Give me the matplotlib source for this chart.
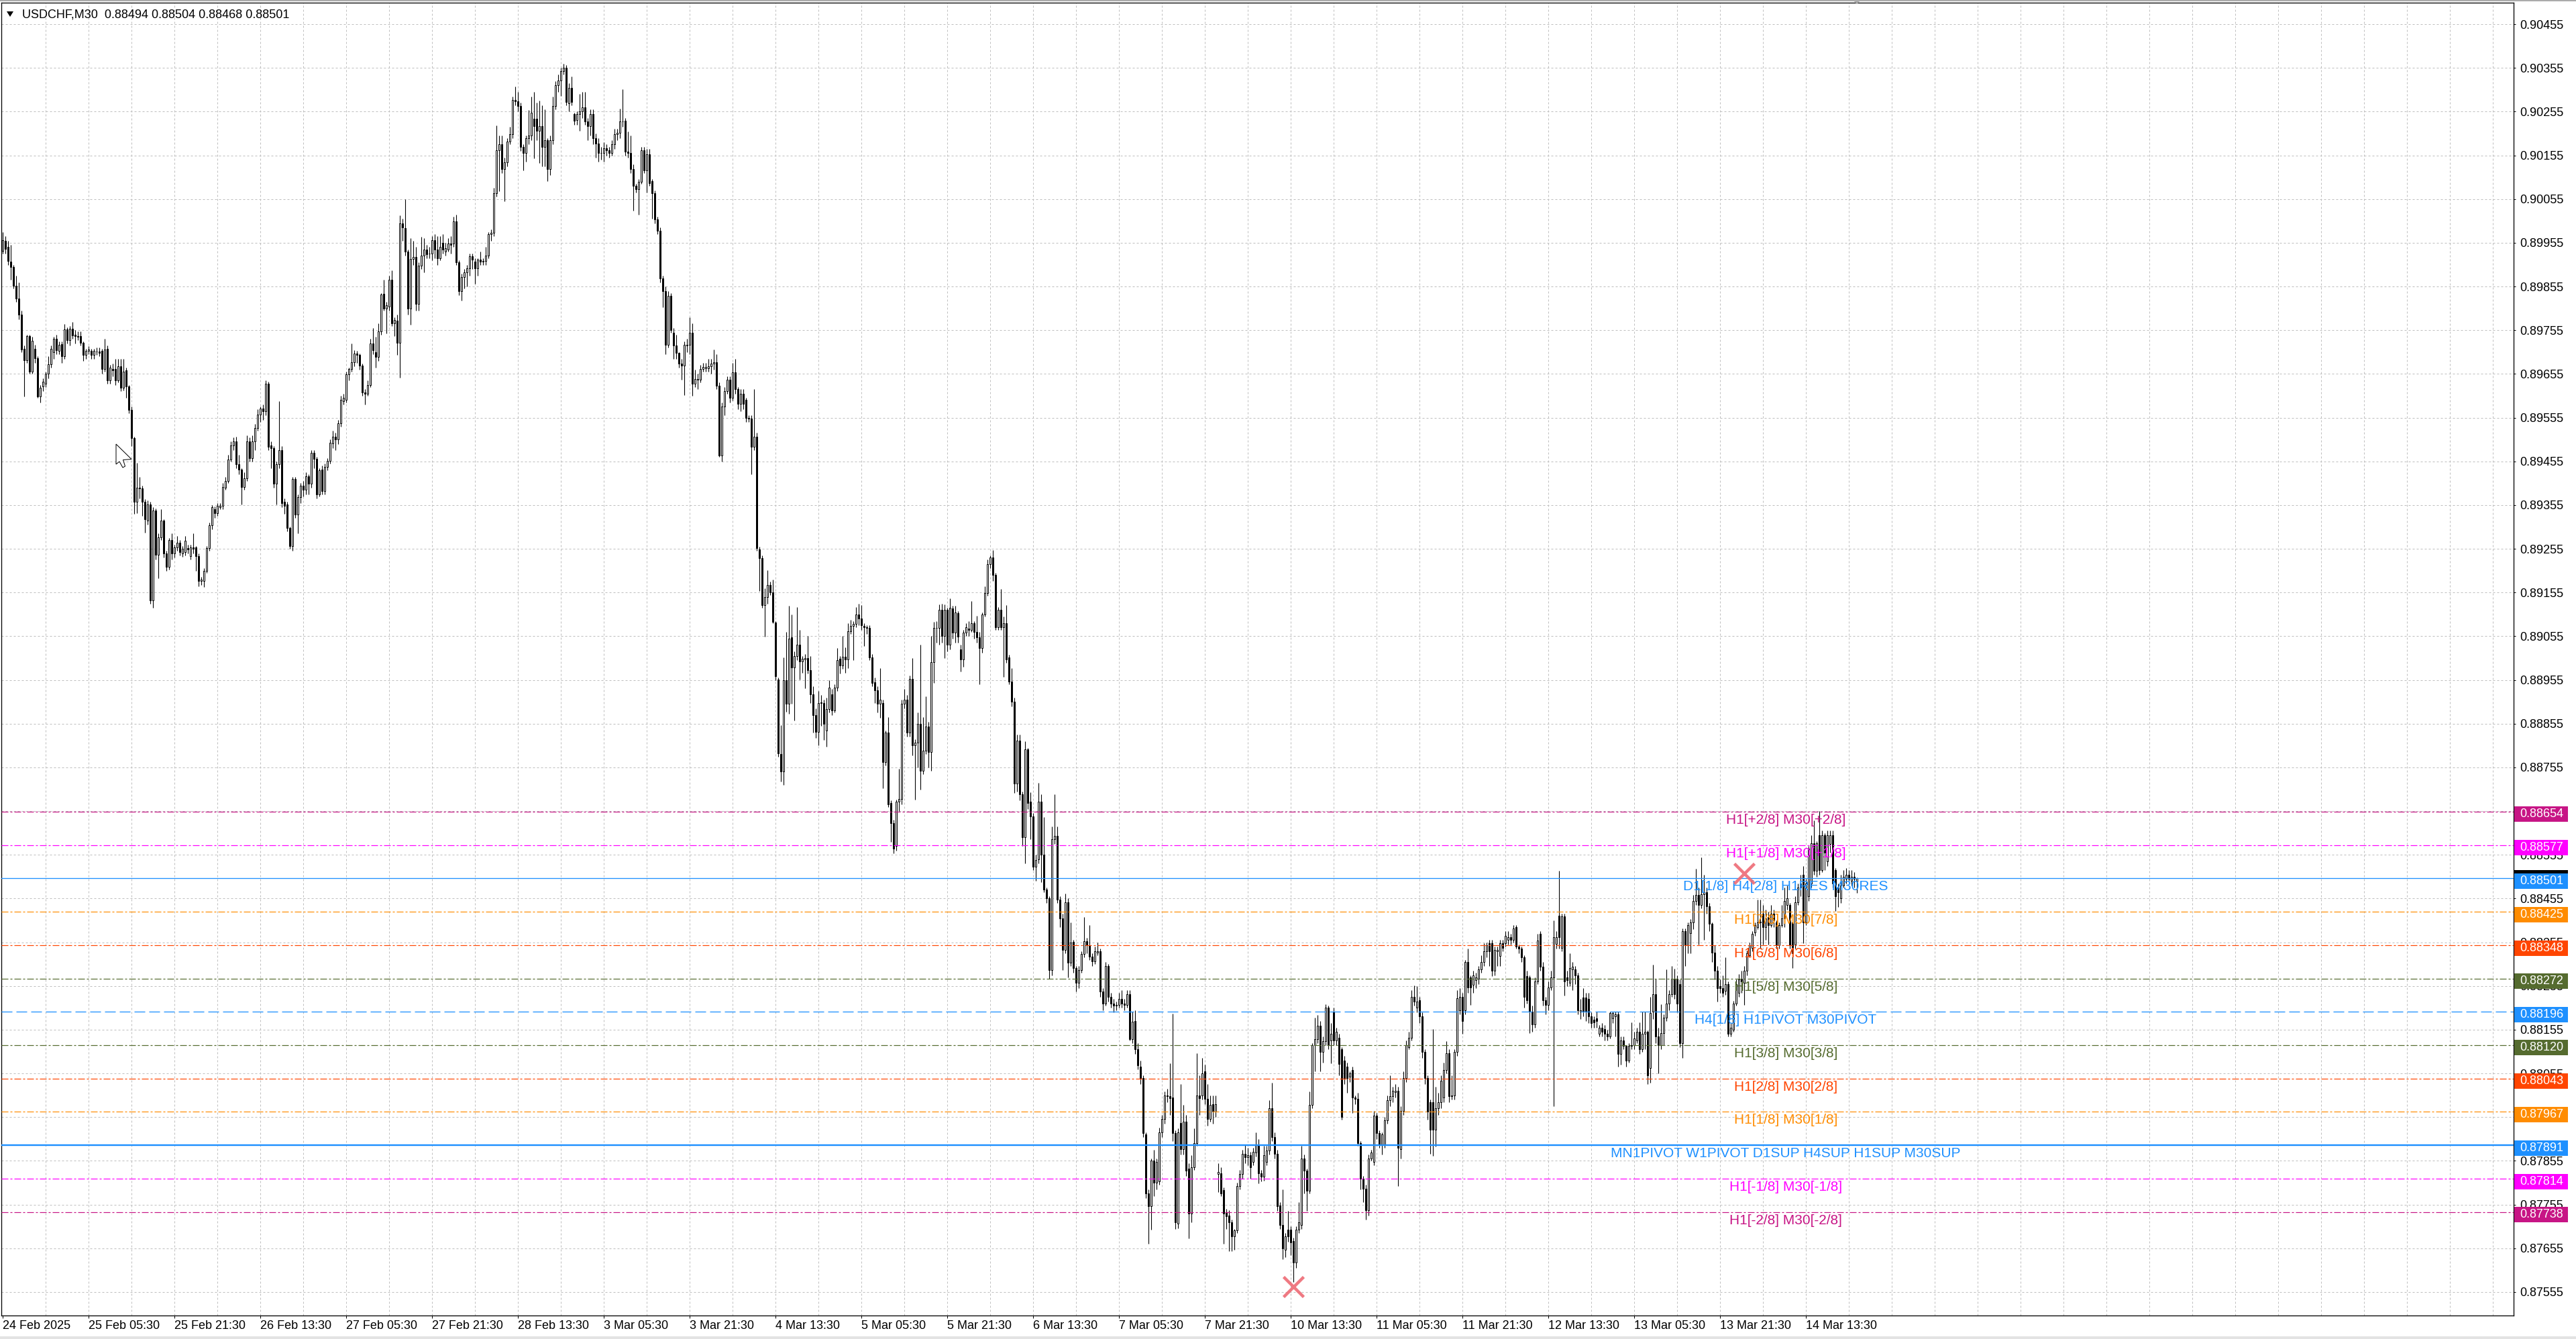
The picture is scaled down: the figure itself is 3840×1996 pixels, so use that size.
import matplotlib
matplotlib.use("Agg")
import matplotlib.pyplot as plt
import matplotlib.transforms as mtransforms
from matplotlib.patches import Rectangle, Polygon
import numpy as np

plt.rcParams['font.family'] = ['Liberation Sans', 'DejaVu Sans']
plt.rcParams['lines.scale_dashes'] = False

# ---------------- data (prices in 1e-5 units) ----------------
symbol = "USDCHF,M30"

open_pts = [
89937,89959,89946,89912,89900,89856,89828,89790,89713,89687,
89741,89660,89713,89691,89603,89627,89633,89655,89677,89704,
89736,89708,89723,89696,89757,89733,89758,89745,89741,89741,
89727,89698,89708,89708,89698,89707,89707,89708,89667,89713,
89640,89667,89667,89640,89673,89623,89663,89627,89573,89508,
89363,89395,89393,89363,89319,89356,89137,89343,89241,89282,
89319,89245,89214,89275,89245,89258,89269,89245,89248,89256,
89238,89258,89258,89238,89181,89181,89204,89256,89309,89346,
89336,89350,89353,89395,89410,89459,89491,89500,89448,89437,
89397,89417,89500,89462,89500,89532,89562,89576,89569,89633,
89491,89485,89404,89448,89481,89363,89356,89302,89262,89414,
89333,89373,89400,89390,89421,89404,89475,89461,89380,89437,
89387,89442,89456,89496,89512,89505,89542,89593,89596,89654,
89667,89681,89702,89698,89674,89613,89610,89630,89725,89704,
89694,89752,89839,89804,89809,89871,89770,89777,89727,89999,
89988,89935,89804,89918,89922,89815,89903,89926,89940,89930,
89931,89961,89940,89919,89955,89935,89940,89953,89954,90004,
89911,89844,89876,89887,89897,89924,89912,89897,89916,89912,
89913,89926,89975,89978,90068,90166,90180,90124,90139,90187,
90203,90281,90278,90268,90174,90160,90195,90200,90238,90238,
90211,90222,90174,90190,90124,90190,90268,90316,90326,90347,
90355,90274,90309,90250,90236,90250,90256,90265,90233,90222,
90249,90195,90182,90160,90160,90171,90167,90160,90180,90203,
90206,90233,90234,90163,90160,90124,90086,90078,90094,90167,
90121,90158,90096,90068,90009,89983,89873,89844,89722,89834,
89749,89720,89703,89679,89674,89720,89722,89749,89632,89643,
89642,89666,89668,89668,89673,89679,89681,89628,89469,89581,
89615,89642,89600,89658,89621,89586,89610,89596,89554,89553,
89488,89511,89254,89234,89127,89145,89172,89155,89087,88956,
88785,88745,88955,88900,89052,88983,89010,89035,88998,89002,
89005,88978,88922,88875,88836,88902,88903,88840,88888,88922,
88885,88938,89003,88988,89008,89002,89067,89078,89083,89105,
89095,89078,89075,89074,89007,88950,88932,88900,88903,88767,
88835,88674,88628,88575,88676,88683,88900,88910,88834,88958,
88805,88812,88855,88748,88794,88848,88790,88996,89074,89074,
89116,89055,89116,89035,89118,89063,89108,89025,89002,89063,
89072,89070,89085,89065,89052,89028,89105,89154,89220,89235,
89195,89076,89116,89076,89085,89007,88952,88905,88718,88816,
88694,88596,88796,88676,88643,88528,88545,88676,88556,88476,
88455,88292,88590,88598,88453,88410,88338,88447,88308,88356,
88296,88262,88292,88328,88358,88348,88322,88312,88332,88335,
88242,88215,88300,88230,88215,88210,88212,88225,88215,88211,
88236,88134,88175,88110,88071,88045,87915,87781,87751,87855,
87805,87808,87920,87951,88005,88003,88000,87918,87712,87942,
87882,87945,87838,87734,87841,87896,88005,88005,88060,87997,
87951,87985,87967,87825,87827,87789,87737,87730,87715,87682,
87696,87798,87825,87871,87863,87868,87852,87874,87893,87827,
87819,87852,87879,87975,87910,87871,87753,87709,87652,87698,
87698,87671,87622,87698,87709,87860,87833,87786,87983,88120,
88134,88164,88104,88129,88205,88131,88197,88131,88137,88110,
88085,88071,88047,88063,88000,87997,87896,87814,87792,87742,
87860,87852,87959,87918,87893,87893,87948,87994,88003,88012,
88016,87882,87970,88044,88115,88137,88230,88205,88222,88186,
88104,88044,87989,87989,87926,87975,87989,88000,88063,88101,
88003,88005,88104,88200,88230,88200,88310,88274,88258,88268,
88271,88293,88310,88334,88353,88353,88290,88334,88323,88353,
88353,88361,88367,88361,88389,88345,88340,88320,88277,88274,
88197,88167,88266,88375,88299,88222,88211,88252,88274,88351,
88416,88342,88414,88274,88263,88293,88293,88279,88197,88228,
88228,88225,88186,88178,88181,88145,88159,88156,88145,88140,
88181,88185,88190,88100,88131,88118,88085,88118,88120,88131,
88151,88110,88145,88150,88068,88196,88236,88140,88120,88147,
88183,88215,88236,88271,88271,88260,88125,88381,88348,88376,
88400,88449,88463,88440,88465,88470,88438,88397,88331,88290,
88255,88250,88244,88260,88146,88155,88215,88240,88271,88262,
88290,88326,88342,88378,88390,88400,88420,88390,88413,88395,
88420,88400,88348,88395,88410,88440,88440,88400,88350,88447,
88480,88510,88400,88460,88490,88581,88518,88600,88520,88600,
88540,88580,88600,88520,88480,88455,88485,88500,88510,88495,
88505,88494]

high_pts = [
89980,89970,89960,89950,89905,89880,89865,89800,89720,89745,
89745,89740,89722,89695,89630,89645,89660,89695,89720,89740,
89745,89730,89730,89769,89762,89765,89774,89755,89752,89752,
89730,89712,89718,89712,89712,89715,89716,89712,89735,89720,
89675,89678,89690,89690,89690,89690,89670,89630,89580,89512,
89451,89420,89400,89368,89365,89362,89350,89348,89290,89345,
89323,89250,89280,89290,89265,89285,89275,89262,89285,89265,
89265,89290,89262,89245,89190,89210,89262,89315,89355,89352,
89360,89360,89405,89420,89470,89500,89510,89512,89470,89440,
89430,89515,89510,89515,89540,89575,89580,89585,89640,89638,
89500,89490,89455,89593,89490,89370,89362,89306,89420,89420,
89380,89405,89410,89430,89425,89480,89480,89465,89440,89445,
89450,89462,89505,89525,89520,89550,89605,89610,89660,89670,
89725,89710,89708,89702,89678,89620,89640,89735,89760,89740,
89770,89840,89871,89820,89880,89892,89785,89790,90018,90010,
90055,89940,89965,89960,89945,89910,89969,89965,89950,89945,
89970,89975,89970,89970,89975,89955,89965,89970,90015,90020,
89915,89885,89895,89905,89930,89930,89920,89920,89935,89920,
89945,89980,89985,90080,90224,90200,90200,90150,90195,90220,
90290,90312,90300,90275,90180,90200,90259,90290,90300,90275,
90280,90270,90260,90195,90200,90290,90325,90340,90355,90365,
90362,90320,90335,90252,90255,90296,90300,90300,90240,90260,
90260,90205,90195,90175,90185,90180,90175,90190,90215,90215,
90262,90307,90240,90210,90200,90135,90090,90100,90175,90175,
90170,90170,90100,90075,90015,89990,89880,89855,89845,89840,
89760,89745,89705,89690,89730,89735,89784,89770,89665,89655,
89675,89680,89680,89690,89690,89711,89700,89635,89590,89625,
89650,89650,89680,89690,89625,89620,89620,89600,89560,89560,
89620,89520,89260,89240,89165,89206,89180,89185,89090,88960,
88852,89006,89065,89125,89105,89020,89122,89070,89010,89015,
89055,89010,88940,88890,88930,88920,88910,88915,88955,88935,
88945,89028,89010,89055,89030,89085,89092,89090,89122,89130,
89127,89085,89080,89080,89015,88960,88940,88982,88910,88840,
88870,88680,88635,88682,88752,88910,88935,88920,88965,89005,
88820,88880,89035,88870,88918,88860,89055,89088,89090,89128,
89130,89128,89120,89142,89125,89125,89112,89035,89070,89085,
89090,89136,89090,89102,89065,89110,89170,89230,89240,89252,
89200,89122,89163,89100,89127,89012,88982,88915,88830,88830,
88700,88815,88800,88698,88650,88555,88720,88694,88642,88480,
88460,88620,88694,88620,88460,88420,88467,88455,88400,88360,
88300,88300,88335,88412,88365,88395,88330,88345,88355,88340,
88250,88310,88305,88240,88225,88220,88240,88245,88225,88245,
88245,88197,88200,88125,88085,88050,87920,87790,87860,87880,
87860,87931,87960,88014,88020,88078,88192,87925,87930,88030,
87983,87960,87850,87868,87930,88101,88050,88090,88075,88030,
88005,88005,88005,87849,87840,87795,87745,87742,87720,87700,
87805,87835,87880,87893,87885,87875,87885,87920,87905,87835,
87890,87890,87994,88033,87920,87880,87760,87790,87690,87740,
87705,87680,87705,87760,87890,87870,87838,88014,88125,88182,
88189,88175,88140,88214,88210,88170,88205,88160,88145,88115,
88095,88080,88060,88070,88005,88010,87900,87820,87800,87870,
87880,87970,87965,87925,87920,87955,88005,88050,88025,88030,
88025,87980,88060,88130,88150,88245,88257,88255,88230,88195,
88110,88050,87995,88156,88025,88010,88050,88080,88129,88110,
88050,88110,88246,88250,88240,88315,88341,88280,88290,88285,
88300,88325,88353,88355,88360,88360,88345,88345,88360,88360,
88380,88380,88375,88395,88395,88350,88345,88325,88290,88280,
88210,88275,88375,88380,88310,88230,88265,88290,88405,88380,
88518,88420,88420,88290,88330,88310,88300,88285,88225,88250,
88240,88240,88195,88185,88197,88165,88170,88165,88155,88197,
88197,88197,88197,88140,88140,88120,88125,88172,88150,88160,
88172,88197,88197,88153,88230,88304,88271,88160,88214,88190,
88293,88245,88300,88295,88280,88270,88386,88386,88400,88408,
88463,88523,88480,88550,88510,88480,88445,88400,88348,88300,
88270,88280,88320,88265,88170,88221,88270,88282,88290,88300,
88336,88354,88381,88401,88452,88452,88440,88430,88425,88440,
88430,88405,88400,88441,88480,88485,88445,88408,88460,88490,
88510,88530,88500,88575,88600,88633,88586,88655,88610,88605,
88610,88610,88610,88525,88490,88510,88520,88525,88520,88520,
88515,88504]

low_pts = [
89930,89930,89905,89870,89850,89820,89780,89705,89603,89680,
89655,89655,89680,89600,89590,89615,89625,89645,89670,89690,
89700,89700,89680,89690,89725,89720,89735,89725,89732,89720,
89685,89690,89700,89690,89690,89698,89695,89655,89660,89632,
89632,89650,89630,89635,89615,89618,89600,89565,89490,89335,
89336,89370,89330,89292,89310,89130,89120,89230,89188,89275,
89235,89205,89208,89230,89235,89250,89240,89237,89240,89245,
89230,89245,89205,89170,89172,89168,89200,89250,89300,89325,
89330,89345,89345,89390,89405,89455,89480,89440,89425,89356,
89390,89410,89455,89455,89480,89525,89545,89550,89560,89480,
89440,89395,89356,89440,89350,89335,89295,89255,89250,89325,
89290,89360,89375,89380,89380,89395,89440,89370,89375,89380,
89380,89435,89450,89485,89480,89495,89535,89585,89590,89640,
89660,89672,89680,89665,89605,89585,89605,89625,89700,89670,
89685,89745,89800,89748,89800,89765,89741,89698,89647,89960,
89925,89791,89768,89905,89800,89800,89895,89887,89920,89920,
89915,89920,89905,89915,89930,89925,89935,89930,89945,89905,
89835,89823,89850,89855,89880,89895,89862,89880,89905,89905,
89905,89920,89960,89970,90060,90073,90115,90050,90130,90180,
90195,90270,90255,90165,90121,90140,90180,90190,90148,90190,
90137,90130,90130,90096,90110,90180,90260,90300,90291,90340,
90270,90255,90270,90225,90225,90211,90240,90225,90190,90200,
90180,90150,90140,90145,90140,90155,90150,90155,90170,90190,
90195,90220,90155,90150,90115,90028,90070,90020,90090,90115,
90070,90085,90010,90000,89975,89865,89807,89700,89715,89750,
89690,89690,89670,89642,89607,89705,89700,89605,89625,89620,
89635,89660,89660,89660,89655,89665,89620,89465,89455,89560,
89610,89590,89595,89610,89575,89570,89575,89545,89545,89426,
89480,89250,89158,89120,89054,89130,89150,89085,88955,88780,
88722,88715,88882,88878,88900,88862,89000,88956,88972,88936,
88970,88903,88835,88822,88805,88850,88818,88803,88880,88875,
88880,88930,88970,88980,88972,88982,89060,89000,89075,89080,
89070,89032,89060,89000,88940,88903,88880,88868,88708,88760,
88665,88585,88558,88565,88655,88670,88890,88825,88825,88782,
88682,88755,88705,88740,88785,88755,88748,88948,89040,89035,
89040,89005,89020,89025,89050,89040,89040,88975,88985,89055,
89055,89065,89050,89040,88945,89018,89100,89148,89210,89182,
89070,89070,89070,88962,88995,88945,88895,88696,88700,88680,
88576,88535,88660,88590,88520,88495,88535,88492,88470,88445,
88272,88280,88580,88445,88390,88292,88330,88275,88300,88285,
88243,88250,88285,88320,88330,88315,88300,88305,88325,88230,
88200,88210,88220,88205,88195,88200,88205,88205,88200,88205,
88130,88125,88100,88065,88030,87910,87770,87666,87698,87775,
87790,87800,87910,87940,87990,87960,87900,87700,87701,87870,
87870,87820,87677,87715,87835,87890,87960,87995,87985,87935,
87945,87940,87955,87783,87775,87666,87700,87649,87649,87652,
87690,87790,87815,87850,87845,87815,87845,87865,87803,87808,
87810,87845,87870,87900,87860,87740,87700,87630,87635,87670,
87640,87578,87610,87690,87700,87780,87740,87780,87975,88060,
88125,88060,88080,88120,88110,88078,88120,88120,88050,87950,
88030,88010,88035,87965,87985,87890,87790,87760,87720,87730,
87855,87845,87905,87885,87870,87885,87940,87980,87990,88000,
87797,87860,87960,88035,88110,88130,88210,88195,88170,88090,
88030,87950,87871,87866,87888,87960,87975,87990,88055,87990,
87995,87995,88095,88190,88145,88190,88240,88211,88240,88250,
88260,88285,88300,88320,88300,88277,88280,88300,88300,88335,
88345,88350,88350,88355,88340,88330,88310,88205,88215,88148,
88150,88160,88260,88290,88210,88190,88200,88245,87980,88340,
88340,88335,88233,88255,88255,88246,88260,88190,88180,88185,
88175,88170,88160,88160,88160,88140,88140,88130,88130,88135,
88170,88140,88070,88075,88110,88070,88080,88110,88110,88125,
88100,88105,88110,88030,88033,88180,88125,88055,88110,88120,
88175,88200,88230,88225,88195,88115,88090,88300,88330,88330,
88385,88440,88350,88433,88360,88420,88380,88310,88270,88220,
88240,88230,88235,88140,88140,88150,88210,88230,88240,88211,
88280,88320,88335,88370,88385,88340,88350,88360,88350,88390,
88390,88340,88340,88390,88390,88430,88340,88296,88340,88440,
88460,88353,88395,88450,88480,88510,88505,88510,88515,88520,
88530,88560,88480,88427,88436,88445,88480,88490,88495,88485,
88480,88468]

close_pts = [
89961,89941,89914,89900,89856,89828,89790,89711,89687,89741,
89660,89731,89691,89603,89623,89637,89655,89677,89713,89735,
89709,89721,89696,89757,89733,89758,89743,89741,89740,89727,
89698,89708,89711,89698,89708,89706,89703,89667,89711,89640,
89669,89664,89640,89673,89623,89660,89627,89573,89508,89363,
89395,89393,89363,89323,89356,89137,89343,89241,89282,89319,
89245,89214,89275,89245,89258,89269,89248,89255,89274,89254,
89258,89255,89238,89181,89184,89204,89256,89309,89350,89336,
89353,89353,89397,89410,89459,89491,89500,89448,89437,89397,
89417,89500,89462,89500,89532,89562,89576,89569,89633,89488,
89485,89404,89448,89481,89360,89353,89302,89262,89414,89333,
89373,89400,89390,89421,89404,89475,89461,89380,89434,89387,
89442,89456,89498,89512,89505,89542,89596,89600,89654,89667,
89681,89702,89698,89674,89613,89610,89630,89725,89709,89694,
89752,89836,89804,89812,89871,89770,89779,89727,89999,89990,
89935,89804,89918,89922,89815,89903,89926,89940,89929,89931,
89961,89940,89919,89945,89940,89942,89953,89951,90004,89911,
89844,89876,89887,89897,89924,89916,89897,89916,89912,89913,
89926,89975,89978,90068,90166,90180,90124,90139,90187,90203,
90281,90279,90268,90174,90160,90195,90200,90252,90222,90211,
90222,90174,90190,90124,90190,90268,90316,90326,90347,90355,
90277,90309,90277,90234,90250,90256,90265,90233,90222,90249,
90195,90182,90160,90161,90171,90167,90160,90180,90203,90206,
90233,90232,90163,90160,90124,90086,90078,90094,90167,90121,
90158,90092,90068,90009,89983,89873,89844,89722,89834,89756,
89720,89703,89679,89674,89722,89722,89749,89632,89644,89642,
89666,89671,89671,89673,89679,89681,89628,89469,89581,89615,
89642,89600,89658,89621,89586,89610,89586,89554,89553,89488,
89511,89256,89234,89127,89145,89172,89155,89088,88963,88787,
88745,88955,88900,89050,88983,89010,89035,88998,89003,89005,
88978,88922,88875,88836,88903,88904,88855,88888,88938,88885,
88938,89000,88988,89008,89002,89067,89078,89083,89105,89095,
89080,89075,89074,89007,88948,88932,88900,88910,88767,88835,
88670,88628,88570,88676,88683,88900,88910,88834,88958,88805,
88812,88855,88748,88794,88848,88790,88996,89074,89074,89116,
89055,89116,89035,89120,89063,89110,89054,89002,89063,89075,
89070,89085,89065,89052,89028,89105,89154,89220,89235,89195,
89076,89116,89076,89085,89002,88952,88905,88718,88816,88694,
88596,88796,88674,88643,88528,88543,88676,88556,88476,88455,
88292,88590,88598,88453,88410,88338,88447,88308,88355,88296,
88262,88292,88328,88358,88348,88322,88312,88335,88335,88242,
88215,88300,88230,88215,88210,88212,88225,88215,88211,88236,
88134,88173,88110,88074,88045,87918,87781,87751,87855,87805,
87852,87920,87951,88005,88003,87998,87918,87715,87920,87882,
87945,87833,87734,87841,87896,88005,87998,88055,87997,87951,
87983,87967,87985,87830,87781,87734,87729,87715,87682,87696,
87798,87825,87871,87863,87868,87841,87876,87893,87827,87819,
87868,87879,87975,87910,87871,87751,87709,87655,87682,87682,
87668,87622,87698,87715,87860,87833,87786,87983,88120,88134,
88164,88104,88129,88205,88120,88145,88131,88150,88077,87956,
88044,88044,88055,88000,87997,87896,87814,87792,87742,87860,
87874,87959,87918,87893,87915,87948,87994,88003,88016,88016,
87885,87970,88044,88120,88137,88230,88219,88219,88186,88104,
88044,87967,87926,87926,87975,87989,88039,88063,88101,88003,
88005,88104,88227,88230,88175,88310,88252,88252,88279,88274,
88293,88310,88334,88348,88334,88290,88337,88337,88353,88342,
88370,88367,88361,88386,88345,88340,88320,88230,88222,88197,
88167,88266,88359,88299,88222,88211,88252,88274,88367,88367,
88367,88414,88266,88268,88296,88299,88279,88200,88200,88197,
88197,88186,88170,88172,88175,88159,88150,88145,88140,88194,
88194,88190,88100,88131,88118,88085,88118,88120,88135,88151,
88110,88145,88150,88050,88194,88236,88140,88120,88147,88183,
88215,88236,88271,88236,88215,88125,88380,88348,88395,88400,
88449,88463,88440,88465,88470,88438,88397,88331,88290,88250,
88250,88240,88260,88146,88160,88215,88260,88270,88265,88290,
88330,88348,88375,88395,88400,88402,88390,88410,88395,88420,
88405,88348,88395,88410,88450,88455,88348,88330,88447,88480,
88490,88400,88490,88570,88581,88518,88581,88520,88600,88560,
88600,88600,88490,88460,88470,88485,88505,88510,88500,88505,
88500,88501]

time_labels = ["24 Feb 2025", "25 Feb 05:30", "25 Feb 21:30", "26 Feb 13:30",
               "27 Feb 05:30", "27 Feb 21:30", "28 Feb 13:30", "3 Mar 05:30",
               "3 Mar 21:30", "4 Mar 13:30", "5 Mar 05:30", "5 Mar 21:30",
               "6 Mar 13:30", "7 Mar 05:30", "7 Mar 21:30", "10 Mar 13:30",
               "11 Mar 05:30", "11 Mar 21:30", "12 Mar 13:30", "13 Mar 05:30",
               "13 Mar 21:30", "14 Mar 13:30"]
bars_per_label = 32

level_values = [0.88654, 0.88577, 0.88501, 0.88425, 0.88348, 0.88272, 0.88196,
                0.88120, 0.88043, 0.87967, 0.87891, 0.87814, 0.87738]
level_names = ["H1[+2/8] M30[+2/8]", "H1[+1/8] M30[+1/8]",
               "D1[1/8] H4[2/8] H1RES M30RES", "H1[7/8] M30[7/8]",
               "H1[6/8] M30[6/8]", "H1[5/8] M30[5/8]", "H4[1/8] H1PIVOT M30PIVOT",
               "H1[3/8] M30[3/8]", "H1[2/8] M30[2/8]", "H1[1/8] M30[1/8]",
               "MN1PIVOT W1PIVOT D1SUP H4SUP H1SUP M30SUP",
               "H1[-1/8] M30[-1/8]", "H1[-2/8] M30[-2/8]"]

cross_bars = [481, 649]
cross_prices = [0.87567, 0.88512]

grid_first_price = 0.87555
grid_step = 0.001
grid_count = 30

# ---------------- styling ----------------
MVR, MAG, DBL, DOR, ORR, OLV = '#C71585', '#FF00FF', '#1E90FF', '#FF8C00', '#FF4500', '#556B2F'
level_colors = [MVR, MAG, DBL, DOR, ORR, OLV, DBL, OLV, ORR, DOR, DBL, MAG, MVR]
level_kinds = ['dd', 'dd', 'solid', 'dd', 'dd', 'dd', 'long', 'dd', 'dd', 'dd', 'thick', 'dd', 'dd']

W, H, DPI = 3840, 1996, 100
PT = 72.0 / DPI  # points per pixel
L_px, R_px, T_px, B_px = 2, 3747, 4, 1961
px_per_bar = 4.0
first_bar_px = 4.0

fig = plt.figure(figsize=(W / DPI, H / DPI), dpi=DPI, facecolor='white')
ax = fig.add_axes([L_px / W, 1 - B_px / H, (R_px - L_px) / W, (B_px - T_px) / H])
ax.set_facecolor('white')

xmin = -(first_bar_px - L_px) / px_per_bar
xmax = xmin + (R_px - L_px) / px_per_bar
y_top = grid_first_price + (1926 - T_px) / 65170.0
y_bot = grid_first_price - (B_px - 1926) / 65170.0
ax.set_xlim(xmin, xmax)
ax.set_ylim(y_bot, y_top)
dpp = (y_top - y_bot) / (B_px - T_px)  # data units per pixel

# grid
grid_levels = grid_first_price + grid_step * np.arange(grid_count)
gcol = '#BEBEBE'
for gy in grid_levels:
    ax.axhline(gy, color=gcol, lw=1 * PT, dashes=(3 * PT, 3 * PT), zorder=0.5)
k = 1
while 16 * k < xmax:
    ax.axvline(16 * k, color=gcol, lw=1 * PT, dashes=(3 * PT, 3 * PT), zorder=0.5)
    k += 1

# candles
n = min(len(open_pts), len(high_pts), len(low_pts), len(close_pts))
idx = np.arange(n)
o = np.array(open_pts[:n]) / 1e5
hh = np.array(high_pts[:n]) / 1e5
ll = np.array(low_pts[:n]) / 1e5
c = np.array(close_pts[:n]) / 1e5
up = c >= o
ax.vlines(idx, ll, hh, color='black', lw=1.1 * PT, zorder=2)
bot = np.minimum(o, c)
hgt = np.abs(c - o)
ax.bar(idx[up], hgt[up], bottom=bot[up], width=0.6, facecolor='white',
       edgecolor='black', linewidth=1.0 * PT, zorder=3)
ax.bar(idx[~up], hgt[~up], bottom=bot[~up], width=0.6, facecolor='black',
       edgecolor='black', linewidth=1.0 * PT, zorder=3)

# level lines
for v, col, kind in zip(level_values, level_colors, level_kinds):
    if kind == 'dd':
        ax.axhline(v, color=col, lw=1.2 * PT, dashes=(10 * PT, 3 * PT, 3 * PT, 3 * PT), zorder=4)
    elif kind == 'long':
        ax.axhline(v, color=col, lw=1.3 * PT, dashes=(16 * PT, 6 * PT), zorder=4)
    elif kind == 'thick':
        ax.axhline(v, color=col, lw=2.4 * PT, zorder=4)
    else:
        ax.axhline(v, color=col, lw=1.3 * PT, zorder=4)

# level labels
lab_trans = mtransforms.blended_transform_factory(ax.transAxes, ax.transData) + \
    mtransforms.ScaledTranslation(0, -3 / DPI, fig.dpi_scale_trans)
lab_x = (2662 - L_px) / (R_px - L_px)
for v, name, col in zip(level_values, level_names, level_colors):
    ax.text(lab_x, v, name, transform=lab_trans, ha='center', va='top',
            fontsize=15, color=col, zorder=5)

# cross marks
ax.plot(cross_bars, cross_prices, linestyle='none', marker='x', markersize=30 * PT,
        markeredgewidth=4.5 * PT, color='#EE6A74', alpha=0.9, zorder=6)

# axes styling
for sp in ax.spines.values():
    sp.set_color('black')
    sp.set_linewidth(1.3 * PT)
ax.yaxis.tick_right()
ax.set_yticks(grid_levels)
ax.set_yticklabels([f"{v:.5f}" for v in grid_levels])
ax.tick_params(axis='y', which='both', length=3 * PT, width=1 * PT, pad=6 * PT,
               labelsize=13, colors='black', left=False, right=True)
label_pos = [bars_per_label * i for i in range(len(time_labels))]
ax.set_xticks(label_pos)
ax.set_xticklabels(time_labels, ha='left')
ax.tick_params(axis='x', length=4 * PT, width=1 * PT, pad=3 * PT, labelsize=13, colors='black')
ax.set_xlim(xmin, xmax)
ax.set_ylim(y_bot, y_top)

# right-side price boxes
box_trans = mtransforms.blended_transform_factory(fig.transFigure, ax.transData)
box_h = 23 * dpp
box_x, box_w = 3748 / W, 80 / W
current_price = c[-1]
for v, col in zip(level_values, level_colors):
    yc = v - 4 * dpp
    if abs(v - current_price) < 1e-9:
        fig.add_artist(Rectangle((box_x, yc + box_h / 2), box_w, 5 * dpp, transform=box_trans,
                                 facecolor='black', edgecolor='none', zorder=10))
    fig.add_artist(Rectangle((box_x, yc - box_h / 2), box_w, box_h, transform=box_trans,
                             facecolor=col, edgecolor='none', zorder=10))
    fig.text(3756 / W, yc, f"{v:.5f}", transform=box_trans, ha='left', va='center',
             color='white', fontsize=13, zorder=11)

# title
title = f"{symbol}  {o[-1]:.5f} {hh[-1]:.5f} {ll[-1]:.5f} {c[-1]:.5f}"
fig.text(33 / W, 1 - 22 / H, title, ha='left', va='center', fontsize=13, color='black')
fig.add_artist(Polygon([(10, H - 17), (20, H - 17), (15, H - 25)], closed=True,
                       transform=mtransforms.IdentityTransform(), facecolor='black',
                       edgecolor='none'))

# mouse cursor (decoration, pixel coordinates from top-left)
cur_tip = (173, 662)
cur_shape = [(0, 0), (0, 30), (5, 26), (10, 35), (13.5, 33), (10.5, 23.5), (23, 22.5)]
fig.add_artist(Polygon([(cur_tip[0] + dx, H - (cur_tip[1] + dy)) for dx, dy in cur_shape],
                       closed=True, transform=mtransforms.IdentityTransform(),
                       facecolor='white', edgecolor='black', linewidth=1.0 * PT, zorder=12))

# chart shift marker at top
shift_trans = mtransforms.blended_transform_factory(ax.transData, fig.transFigure)
fig.add_artist(Polygon([(n - 1 - 1.6, 1.0), (n - 1 + 1.6, 1.0), (n - 1, 1 - 6 / H)], closed=True,
                       transform=shift_trans, facecolor='#A8A8A8', edgecolor='none'))

# window borders
fig.add_artist(Rectangle((0, 1 - 2 / H), 1, 2 / H, transform=fig.transFigure,
                         facecolor='#ABABAB', edgecolor='none'))
fig.add_artist(Rectangle((0, 0), 1, 4 / H, transform=fig.transFigure,
                         facecolor='#E3E3E3', edgecolor='none'))

fig.savefig('out.png', dpi=DPI, facecolor='white')
